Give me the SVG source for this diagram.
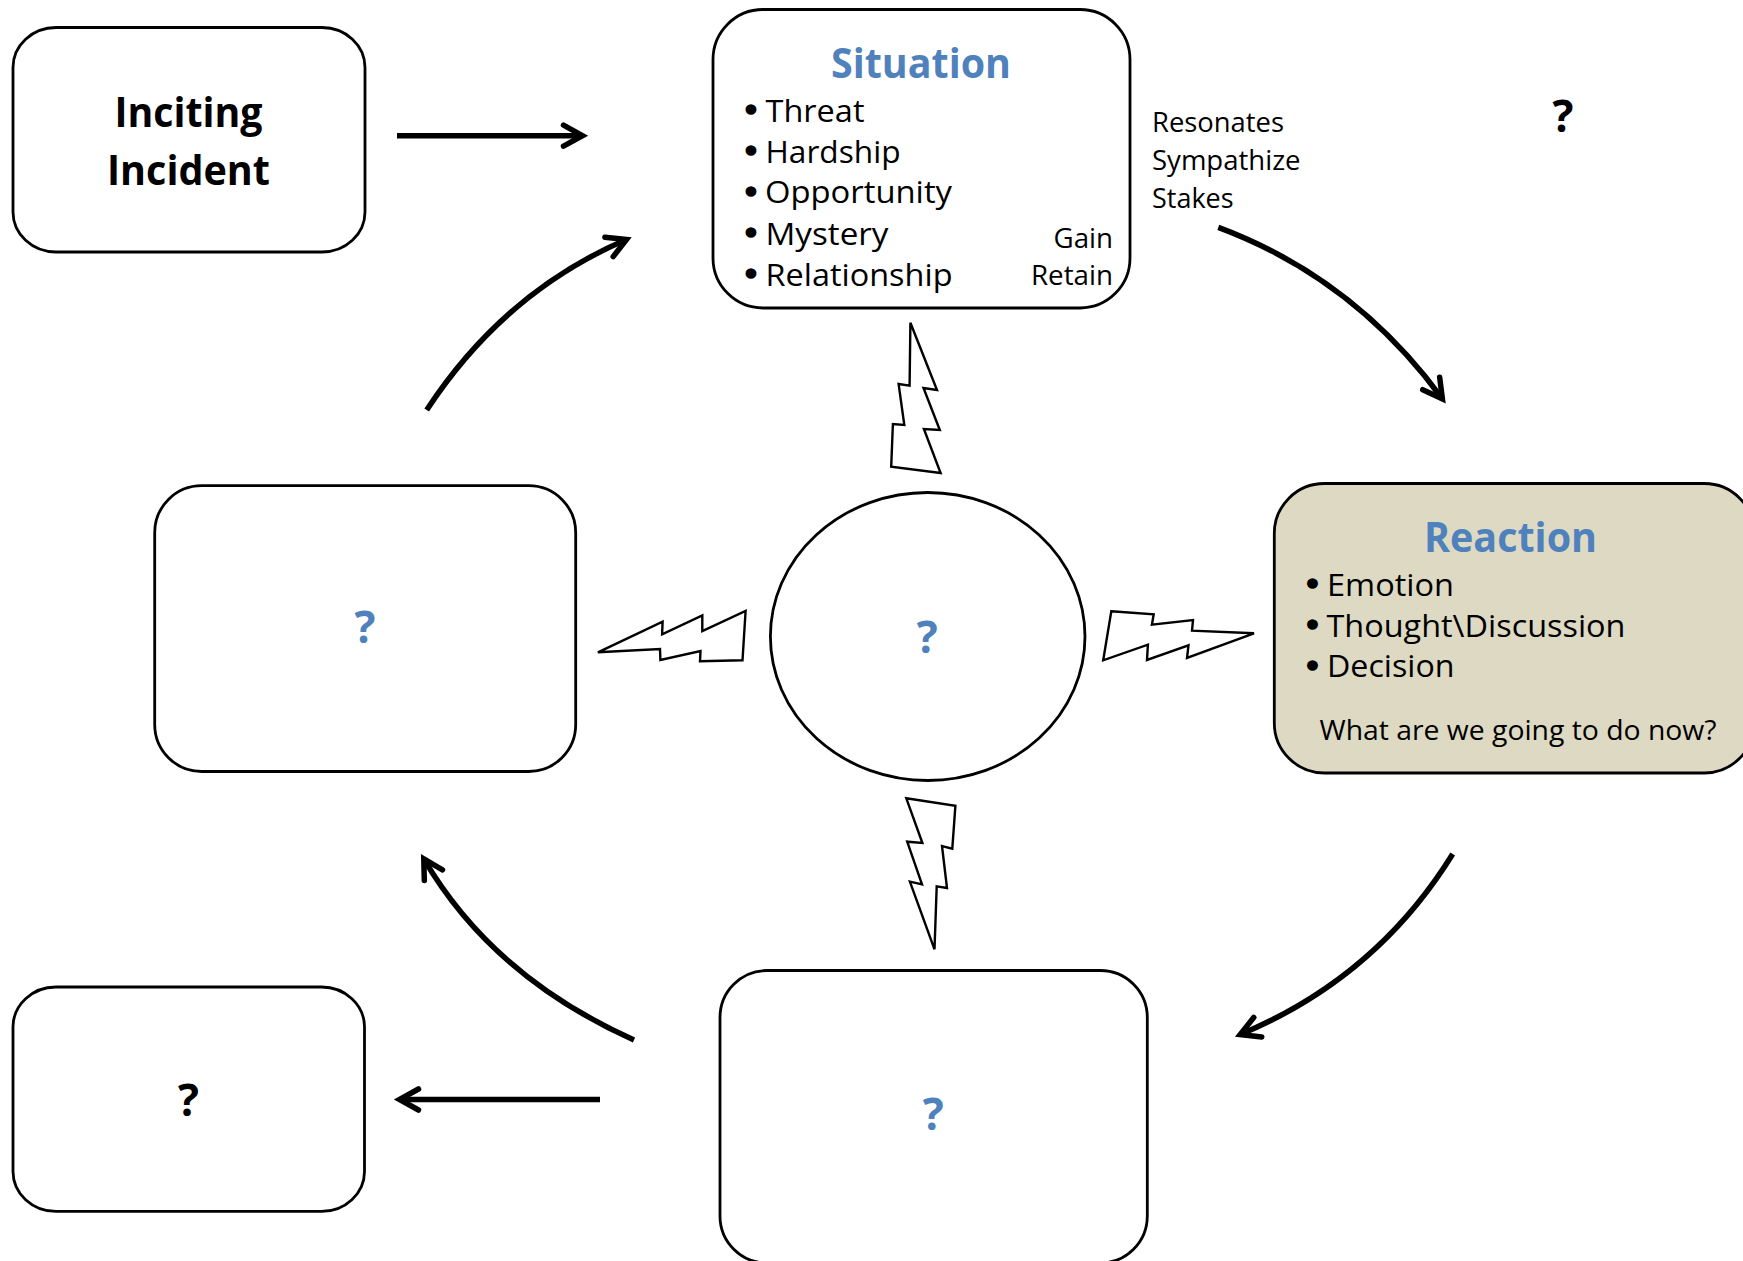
<svg xmlns="http://www.w3.org/2000/svg" width="1743" height="1261" viewBox="0 0 1743 1261">
<style>
text{font-family:"Open Sans","Noto Sans","Liberation Sans",sans-serif;fill:#000}
.box{fill:#fff;stroke:#000;stroke-width:2.8}
.bolt{fill:#fff;stroke:#000;stroke-width:2.4;stroke-linejoin:miter}
.arrow{fill:none;stroke:#000;stroke-width:5.5;marker-end:url(#chev)}
.head{font-size:42px;font-weight:700;fill:#4f81bd}
.dark{font-size:41px;font-weight:700}
.q{font-size:44px;font-weight:700;text-anchor:middle}
.blue{fill:#4f81bd}
.item{font-size:31.5px}
.small{font-size:26.5px}
.dot{font-family:"Liberation Sans",sans-serif;font-size:34px;text-anchor:middle;stroke:#000;stroke-width:1.6}
</style>
<defs>
<marker id="chev" markerUnits="userSpaceOnUse" markerWidth="40" markerHeight="40" viewBox="-30 -20 40 40" refX="0" refY="0" orient="auto">
<path d="M-19,-10.5 L0,0 L-19,10.5" fill="none" stroke="#000" stroke-width="5.5" stroke-linecap="round" stroke-miterlimit="10"/>
</marker>
</defs>
<g id="connectors">
<path class="arrow" d="M397,135.7 L582.5,135.7"/>
<path class="arrow" d="M426.7,410 Q504,292 626.5,239.5"/>
<path class="arrow" d="M1218.3,227.3 Q1354,278 1442.4,398.8"/>
<path class="arrow" d="M1452.7,854 Q1376,978 1240.2,1034.5"/>
<path class="arrow" d="M634,1040 Q492.5,976.4 423.8,858.8"/>
<path class="arrow" d="M600,1099.5 L399.5,1099.5"/>
</g>
<g id="bolts">
<polygon class="bolt" points="910.4,322.7 937,390 923.5,388 939.8,430 923.9,429 940.6,473 891.2,466.7 892.9,424 904.3,425 898.6,384 909.6,385.7"/>
<polygon class="bolt" points="597.9,652.3 662.6,621.7 662.1,634.3 702.3,615.3 702.3,631 745.6,611 742.5,660.3 700,661.3 700.5,651 660.4,660 660,649"/>
<polygon class="bolt" points="1111.3,611.3 1153.7,614.3 1151.9,624.7 1193,620 1192,630.7 1254,633.3 1187,658 1188.5,645.3 1147,660 1147.9,644.7 1103.2,660.3"/>
<polygon class="bolt" points="906.3,798.3 955.4,805.7 952.3,848.7 942,846 947,888 936.7,886.3 934.5,949.3 909.9,881.7 922,884.3 907.2,841.7 922.4,843"/>
</g>
<g id="inciting">
<rect class="box" x="13" y="27.5" width="352" height="224.5" rx="43" ry="40"/>
<text class="dark" x="114.5" y="126.5" textLength="148" lengthAdjust="spacingAndGlyphs">Inciting</text>
<text class="dark" x="107" y="184.5" textLength="163" lengthAdjust="spacingAndGlyphs">Incident</text>
</g>
<g id="situation">
<rect class="box" x="713" y="9.5" width="417" height="298.5" rx="50" ry="50"/>
<text class="head" x="831" y="77.5" textLength="180" lengthAdjust="spacingAndGlyphs">Situation</text>
<text class="dot" x="751" y="121">•</text>
<text class="item" x="765.5" y="121.5" textLength="99" lengthAdjust="spacingAndGlyphs">Threat</text>
<text class="dot" x="751" y="162">•</text>
<text class="item" x="765.5" y="162.5" textLength="135" lengthAdjust="spacingAndGlyphs">Hardship</text>
<text class="dot" x="751" y="203">•</text>
<text class="item" x="765" y="203.3" textLength="187" lengthAdjust="spacingAndGlyphs">Opportunity</text>
<text class="dot" x="751" y="244">•</text>
<text class="item" x="765.5" y="244.5" textLength="123" lengthAdjust="spacingAndGlyphs">Mystery</text>
<text class="dot" x="751" y="285">•</text>
<text class="item" x="765.5" y="285.5" textLength="187" lengthAdjust="spacingAndGlyphs">Relationship</text>
<text class="small" x="1053.5" y="247.5" textLength="59.5" lengthAdjust="spacingAndGlyphs">Gain</text>
<text class="small" x="1031" y="285" textLength="82" lengthAdjust="spacingAndGlyphs">Retain</text>
</g>
<g id="situation-notes">
<text class="small" x="1152" y="131.7" textLength="132" lengthAdjust="spacingAndGlyphs">Resonates</text>
<text class="small" x="1152" y="170" textLength="148.5" lengthAdjust="spacingAndGlyphs">Sympathize</text>
<text class="small" x="1152" y="207.7" textLength="81.6" lengthAdjust="spacingAndGlyphs">Stakes</text>
<text class="q" x="1563" y="131.5">?</text>
</g>
<g id="reaction">
<rect x="1274.3" y="483.5" width="480" height="289.5" rx="50" ry="50" fill="#ddd9c3" stroke="#000" stroke-width="2.8"/>
<text class="head" x="1424" y="551.5" textLength="173" lengthAdjust="spacingAndGlyphs">Reaction</text>
<text class="dot" x="1312.5" y="595">•</text>
<text class="item" x="1327" y="595.5" textLength="127" lengthAdjust="spacingAndGlyphs">Emotion</text>
<text class="dot" x="1312.5" y="636">•</text>
<text class="item" x="1326.5" y="636.5" textLength="299" lengthAdjust="spacingAndGlyphs">Thought\Discussion</text>
<text class="dot" x="1312.5" y="677">•</text>
<text class="item" x="1327" y="677.3" textLength="127.5" lengthAdjust="spacingAndGlyphs">Decision</text>
<text class="small" x="1319.5" y="739.5" textLength="397" lengthAdjust="spacingAndGlyphs">What are we going to do now?</text>
</g>
<g id="center">
<ellipse class="box" cx="927.7" cy="636.5" rx="157.3" ry="144"/>
<text class="q blue" x="927.3" y="652.5">?</text>
</g>
<g id="left">
<rect class="box" x="154.7" y="485.7" width="421" height="285.8" rx="47" ry="47"/>
<text class="q blue" x="365" y="642.8">?</text>
</g>
<g id="bottom">
<rect class="box" x="720" y="970.5" width="427.3" height="292.5" rx="47" ry="47"/>
<text class="q blue" x="933.3" y="1130">?</text>
</g>
<g id="outcome">
<rect class="box" x="13" y="987" width="351.5" height="224.4" rx="43" ry="40"/>
<text class="q" x="188.5" y="1115.5">?</text>
</g>
</svg>
